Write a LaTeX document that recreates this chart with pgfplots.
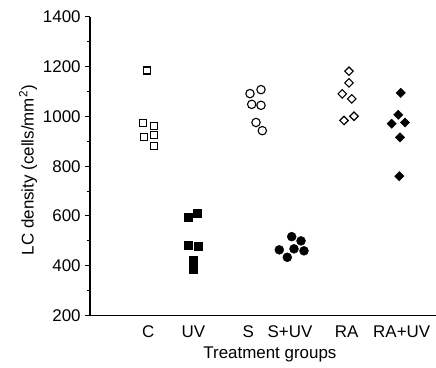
\documentclass[border=0pt]{standalone}
\usepackage{fontspec}
\setmainfont{Liberation Sans}
\usepackage{pgfplots}
\pgfplotsset{compat=1.18}
\begin{document}
\fontsize{17}{20}\selectfont
\begin{tikzpicture}
\useasboundingbox (-90bp,-52.5bp) rectangle (346bp,315.5bp);
\begin{axis}[
  at={(0,0)}, anchor=south west,
  scale only axis, width=346bp, height=298.5bp,
  xmin=90, xmax=436, ymin=200, ymax=1400,
  axis x line*=bottom, axis y line*=left,
  axis line style={line width=1.2bp},
  every tick/.style={line width=1bp, black},
  ytick={200,400,...,1400},
  minor ytick={300,500,...,1300},
  tick align=outside,
  major tick length=5bp, minor tick length=3bp,
  xtick={148.3,193.3,248.3,290,346.7,401.7},
  xticklabels={C,UV,S,S+UV,RA,RA+UV},
  xtick style={draw=none},
  xticklabel style={anchor=base, yshift=-17bp},
  yticklabel style={xshift=1.5bp},
  /pgf/number format/assume math mode=true,
  /pgf/number format/1000 sep={},
  tick label style={font=\fontsize{17}{20}\selectfont},
  label style={font=\fontsize{17}{20}\selectfont},
  xlabel={Treatment groups},
  xlabel style={at={(rel axis cs:0.52,-0.13)}, anchor=center},
  ylabel={LC density (cells/mm\textsuperscript{2})},
  ylabel style={at={(rel axis cs:-0.179,0.487)}, anchor=center, rotate=0},
  clip=false,
]
% C
\addplot[only marks, mark=square, mark size=3.5bp, mark options={line width=1.1bp, fill=white}] coordinates {
(146.7,1185) (142.7,975) (153.7,962) (153.7,926) (143.7,916) (153.7,883)};
% UV
\addplot[only marks, mark=square*, mark size=4bp, mark options={fill=black}] coordinates {
(187.7,595) (196.7,612) (188.3,484) (197.7,477) (193.3,424) (193.3,386)};
% S
\addplot[only marks, mark=o, mark size=4.2bp, mark options={line width=1.1bp}] coordinates {
(250,1092) (261,1108) (251.7,1049) (261,1045) (256,976) (262.3,943)};
% S+UV
\addplot[only marks, mark=*, mark size=4.5bp, mark options={fill=black}] coordinates {
(291.7,517) (301,500) (279.3,464) (294,468) (304,460) (287.3,434)};
% RA
\addplot[only marks, mark=square, mark size=3bp, mark options={rotate=45, line width=1.1bp, fill=white}] coordinates {
(349,1182) (349,1135) (342.3,1091) (351.7,1071) (354,1001) (344,984)};
% RA+UV
\addplot[only marks, mark=square*, mark size=3.3bp, mark options={rotate=45, fill=black}] coordinates {
(400.7,1095) (398.3,1007) (391.7,971) (405,976) (400,916) (399.3,760)};
\end{axis}
\end{tikzpicture}
\end{document}
